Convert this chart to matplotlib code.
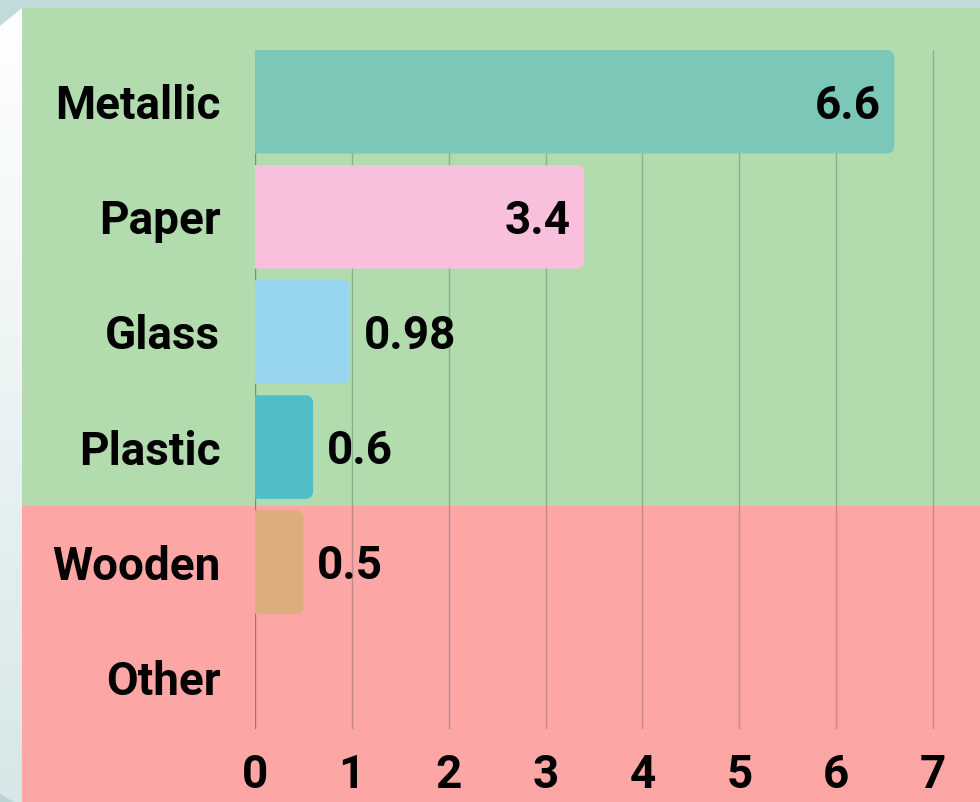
import matplotlib.pyplot as plt
import numpy as np
import matplotlib.transforms as mtransforms
from matplotlib.patches import FancyBboxPatch, Rectangle, Polygon
from matplotlib.colors import LinearSegmentedColormap

plt.rcParams['font.family'] = ['Roboto', 'DejaVu Sans']

categories = ['Metallic', 'Paper', 'Glass', 'Plastic', 'Wooden', 'Other']
values = [6.6, 3.4, 0.98, 0.6, 0.5, 0]
labels = ['6.6', '3.4', '0.98', '0.6', '0.5', '']
colors = ['#7bc7b8', '#f8c0dc', '#98d5ef', '#50bec8', '#dcae7e', '#cccccc']
xticks = [0, 1, 2, 3, 4, 5, 6, 7]

W, H = 980, 802
fig = plt.figure(figsize=(9.8, 8.02), dpi=100)
fig.patch.set_facecolor('#c3dada')

# backdrop: left strip with gradient, green and red zones
bg = fig.add_axes([0, 0, 1, 1])
bg.set_xlim(0, W)
bg.set_ylim(H, 0)
bg.axis('off')
grad = np.linspace(0, 1, 200).reshape(-1, 1)
cm = LinearSegmentedColormap.from_list('strip', ['#ffffff', '#d6e7e7'])
bg.imshow(grad, cmap=cm, extent=[0, 22, H, 8], aspect='auto', zorder=1)
bg.add_patch(Polygon([[0, 0], [22, 0], [22, 8], [0, 26]], closed=True,
                     facecolor='#c3dada', edgecolor='none', zorder=2))
bg.add_patch(Polygon([[0, H - 8], [0, H], [14, H]], closed=True,
                     facecolor='#b9d4d2', edgecolor='none', zorder=2))
bg.add_patch(Rectangle((22, 8), W - 22, 498, facecolor='#b2dcae', edgecolor='none', zorder=2))
bg.add_patch(Rectangle((22, 506), W - 22, H - 506, facecolor='#fca6a6', edgecolor='none', zorder=2))

# main chart axes: x=0 at 255px
left, top, bottom = 255, 50, 729
ax = fig.add_axes([left / W, 1 - bottom / H, (W - left) / W, (bottom - top) / H])
ax.set_facecolor('none')
pxu = (933 - 255) / 7
ax.set_xlim(0, (W - left) / pxu)
n = len(categories)
ax.set_ylim(n - 1 + 0.45, -0.45)
pyu = (bottom - top) / (n - 1 + 0.9)

for x in xticks:
    ax.axvline(x, color='#555555', alpha=0.35 if x else 0.6, lw=1, zorder=1)

bh = 0.9
r = 8 / pxu
fs = 33
for i, (v, c) in enumerate(zip(values, colors)):
    if v <= 0:
        continue
    # start left of zero so the left corners get clipped -> square
    p = FancyBboxPatch((-3 * r, i - bh / 2), v + 3 * r, bh,
                       boxstyle='round,pad=0,rounding_size=%f' % r,
                       mutation_aspect=(pxu / pyu),
                       facecolor=c, edgecolor='none', zorder=2)
    ax.add_patch(p)
    if v > 2:
        ax.annotate(labels[i], (v, i), xytext=(-10, -3), textcoords='offset points',
                    ha='right', va='center', fontsize=fs, fontweight='bold',
                    color='black', zorder=3)
    else:
        ax.annotate(labels[i], (v, i), xytext=(10, -3), textcoords='offset points',
                    ha='left', va='center', fontsize=fs, fontweight='bold',
                    color='black', zorder=3)

ax.set_yticks(range(n))
ax.set_yticklabels(categories, fontsize=fs, fontweight='bold')
shift = mtransforms.ScaledTranslation(0, 3 / 100, fig.dpi_scale_trans)
for lbl in ax.get_yticklabels():
    lbl.set_transform(lbl.get_transform() + shift)
ax.set_xticks(xticks)
ax.set_xticklabels([str(x) for x in xticks], fontsize=fs, fontweight='bold')
ax.tick_params(length=0)
ax.tick_params(axis='y', pad=25)
ax.tick_params(axis='x', pad=17)
for s in ax.spines.values():
    s.set_visible(False)

fig.savefig('out.png', dpi=100)
